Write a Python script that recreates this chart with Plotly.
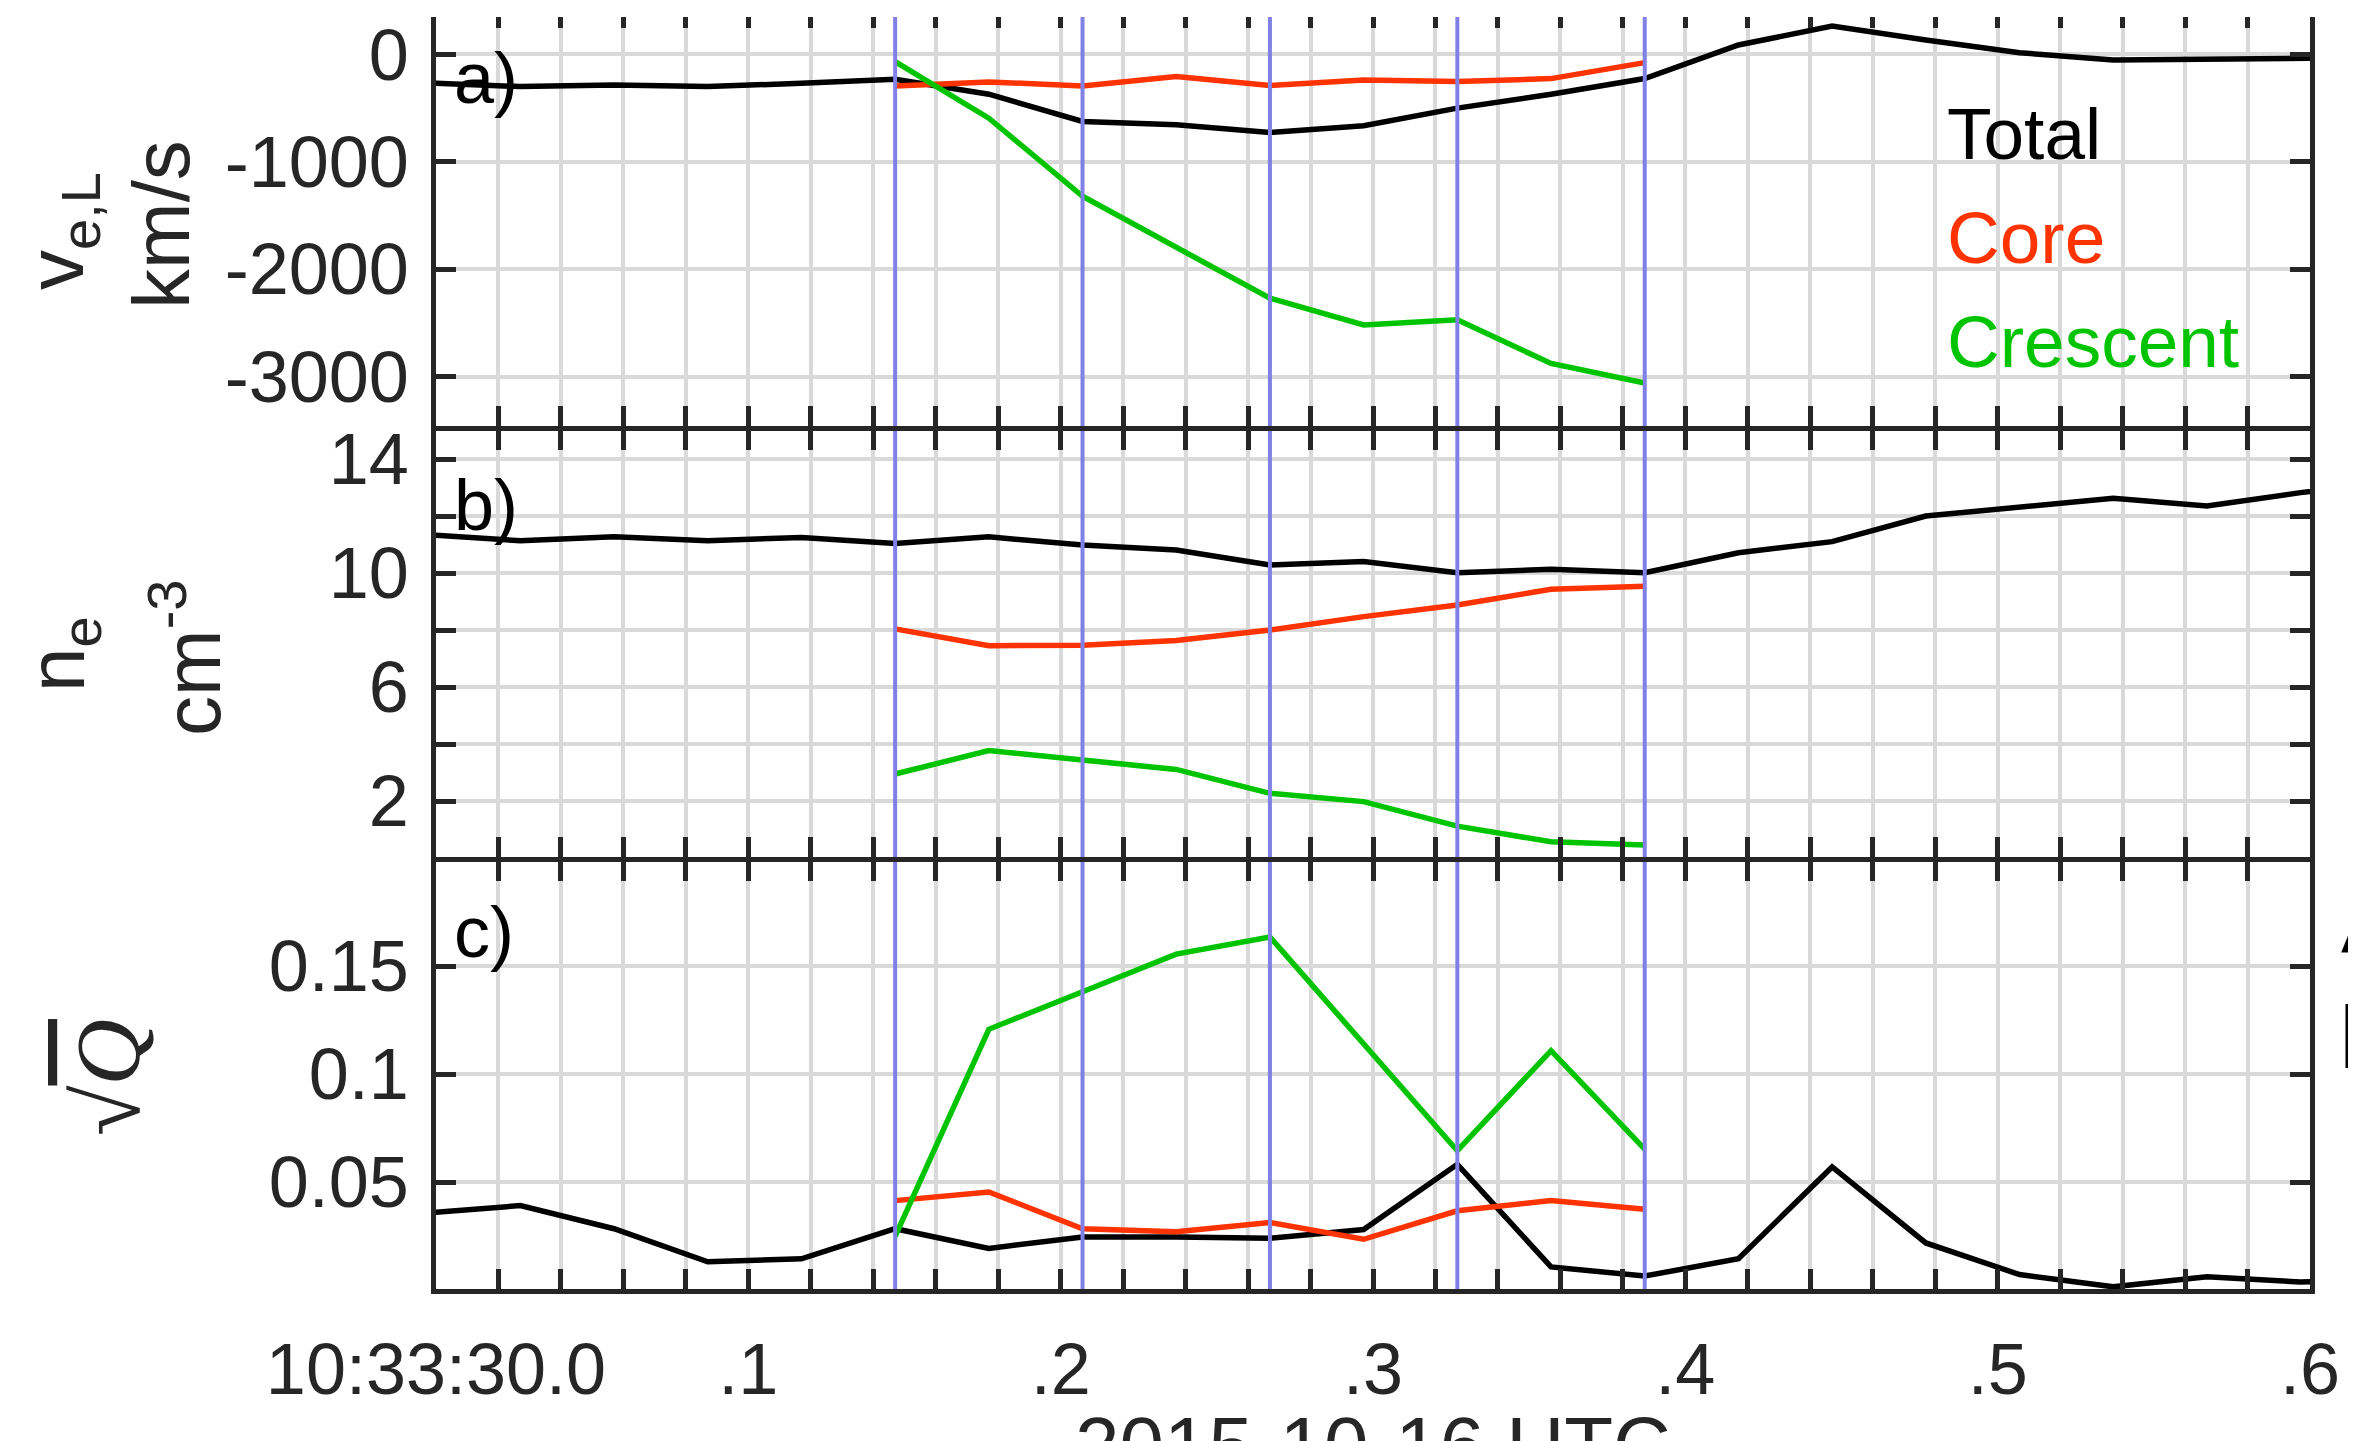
import plotly.graph_objects as go
from plotly.subplots import make_subplots

# ---------------- data ----------------
# time in seconds after 10:33:00 (2015-10-16 UTC)
t_all = [29.997, 30.027, 30.057, 30.087, 30.117, 30.147, 30.177, 30.207, 30.237, 30.267, 30.297,
         30.327, 30.357, 30.387, 30.417, 30.447, 30.477, 30.507, 30.537, 30.567, 30.597, 30.627]
t_sel = [30.147, 30.177, 30.207, 30.237, 30.267, 30.297, 30.327, 30.357, 30.387]

# panel a: v_e,L (km/s)
vL_total = [-265, -300, -285, -300, -270, -232, -371, -625, -656, -727, -665,
            -501, -371, -225, 87, 263, 133, 15, -53, -43, -34, -30]
vL_core = [-294, -257, -294, -207, -291, -238, -254, -226, -77]
vL_cres = [-68, -594, -1321, -1800, -2270, -2518, -2471, -2877, -3059]

# panel b: n_e (cm^-3)
n_total = [11.35, 11.13, 11.27, 11.13, 11.25, 11.04, 11.27, 10.98, 10.81, 10.28, 10.40,
           10.01, 10.13, 10.01, 10.71, 11.10, 12.00, 12.30, 12.62, 12.35, 12.82, 13.2]
n_core = [8.04, 7.45, 7.47, 7.63, 8.00, 8.47, 8.88, 9.43, 9.54]
n_cres = [2.95, 3.77, 3.44, 3.11, 2.27, 1.98, 1.12, 0.57, 0.46]

# panel c: sqrt(Q)
q_total = [0.0358, 0.0392, 0.0285, 0.0132, 0.0146, 0.0285, 0.0194, 0.0247, 0.0247, 0.0241, 0.0281,
           0.0583, 0.0108, 0.0066, 0.0146, 0.0571, 0.0219, 0.0073, 0.0016, 0.0063, 0.0038, 0.0050]
q_core = [0.0415, 0.0455, 0.0285, 0.0271, 0.0314, 0.0236, 0.0368, 0.0415, 0.0375]
q_cres = [0.0250, 0.1208, 0.1382, 0.1556, 0.1635, 0.1142, 0.0646, 0.1109, 0.0653]

# marked times (blue vertical lines)
mark_times = [30.147, 30.207, 30.267, 30.327, 30.387]

series_names = ["Total", "Core", "Crescent"]

# ticks
x_major_vals = [30.0, 30.1, 30.2, 30.3, 30.4, 30.5, 30.6]
x_major_text = ["10:33:30.0", ".1", ".2", ".3", ".4", ".5", ".6"]
ya_vals = [0, -1000, -2000, -3000]
ya_text = ["0", "-1000", "-2000", "-3000"]
yb_vals = [2, 4, 6, 8, 10, 12, 14]
yb_text = ["2", "", "6", "", "10", "", "14"]
yc_vals = [0.05, 0.1, 0.15]
yc_text = ["0.05", "0.1", "0.15"]

# ---------------- style / geometry (page pixels) ----------------
W, H = 2356, 1441
OFF = 8                      # page body margin
X0, X1 = 436, 2310           # plot area left/right on page
Y0, Y1 = 8, 1289             # plot area top/bottom on page
L = X0 - OFF
R = W - (X1 - OFF)
T = Y0 - OFF
B = H - (Y1 - OFF)
PW, PH = X1 - X0, Y1 - Y0

C_TOT, C_CORE, C_CRES, C_MARK = "#000000", "#ff3300", "#00c400", "#8080e6"
AX = "#262626"
FONT = "Liberation Sans, Arial, Helvetica, sans-serif"
TICKF = 72
LABF = 80


def px(xp):
    return (xp - X0) / PW


def py(yp):
    return (Y1 - yp) / PH


ranges = {1: [-3459, 431], 2: [0.03, 15.0], 3: [0.0006, 0.1984]}
doms = {1: [py(426), 1.0], 2: [py(857.2), py(430.5)], 3: [0.0, py(861.6)]}

fig = make_subplots(rows=3, cols=1, shared_xaxes=True, vertical_spacing=0)

panels = [
    (1, vL_total, vL_core, vL_cres),
    (2, n_total, n_core, n_cres),
    (3, q_total, q_core, q_cres),
]
for row, tot, core, cres in panels:
    fig.add_trace(go.Scatter(x=t_all, y=tot, mode="lines", name=series_names[0],
                             line=dict(color=C_TOT, width=5.5)), row=row, col=1)
    fig.add_trace(go.Scatter(x=t_sel, y=core, mode="lines", name=series_names[1],
                             line=dict(color=C_CORE, width=5.5)), row=row, col=1)
    fig.add_trace(go.Scatter(x=t_sel, y=cres, mode="lines", name=series_names[2],
                             line=dict(color=C_CRES, width=5.5)), row=row, col=1)
    mx, my = [], []
    lo, hi = ranges[row]
    for tm in mark_times:
        mx += [tm, tm, None]
        my += [lo, hi, None]
    fig.add_trace(go.Scatter(x=mx, y=my, mode="lines", line=dict(color=C_MARK, width=4),
                             hoverinfo="skip"), row=row, col=1)

x_tick_vals = [round(30.0 + 0.02 * i, 2) for i in range(31)]
x_tick_text = []
for v in x_tick_vals:
    lab = ""
    for mv, mt in zip(x_major_vals, x_major_text):
        if abs(v - mv) < 1e-6:
            lab = mt
    x_tick_text.append(lab)

axis_common = dict(showline=True, linecolor=AX, linewidth=4.5, mirror="ticks",
                   ticks="inside", ticklen=20, tickwidth=4.5, tickcolor=AX,
                   showgrid=True, gridcolor="#d9d9d9", gridwidth=3.5, zeroline=False,
                   automargin=False,
                   tickfont=dict(family=FONT, size=TICKF, color=AX))

for i in (1, 2, 3):
    fig.update_xaxes(range=[30.0, 30.6], tickmode="array", tickvals=x_tick_vals,
                     ticktext=x_tick_text, row=i, col=1, **axis_common)
fig.update_xaxes(showticklabels=True, ticklabelstandoff=14, row=3, col=1)

fig.update_yaxes(range=ranges[1], domain=doms[1], tickmode="array", tickvals=ya_vals,
                 ticktext=ya_text, ticklabelstandoff=8, row=1, col=1, **axis_common)
fig.update_yaxes(range=ranges[2], domain=doms[2], tickmode="array", tickvals=yb_vals,
                 ticktext=yb_text, ticklabelstandoff=8, row=2, col=1, **axis_common)
fig.update_yaxes(range=ranges[3], domain=doms[3], tickmode="array", tickvals=yc_vals,
                 ticktext=yc_text, ticklabelstandoff=8, row=3, col=1, **axis_common)

ann = []


def text(xp, yp, s, size, color="#000000", family=FONT, xanchor="left", yanchor="middle", angle=0):
    ann.append(dict(x=px(xp), y=py(yp), xref="paper", yref="paper", text=s, showarrow=False,
                    xanchor=xanchor, yanchor=yanchor, textangle=angle,
                    font=dict(family=family, size=size, color=color)))


# legend-like labels
text(1945, 133, "Total", 73, C_TOT)
text(1945, 238, "Core", 73, C_CORE)
text(1945, 342, "Crescent", 73, C_CRES)
# panel labels
text(452, 78, "a)", TICKF)
text(452, 505, "b)", TICKF)
text(452, 932, "c)", TICKF)
# y axis titles
text(62, 231, "v<sub>e,L</sub>", LABF, AX, xanchor="center", angle=-90)
text(162, 225, "km/s", LABF, AX, xanchor="center", angle=-90)
text(62, 654, "n<sub>e</sub>", LABF, AX, xanchor="center", angle=-90)
text(186, 658, "cm<sup>-3</sup>", LABF, AX, xanchor="center", angle=-90)
text(108, 1078, "√<span style='text-decoration:overline'><i>Q</i></span>", 92,
     AX, family="Liberation Serif, DejaVu Serif, serif", xanchor="center", angle=-90)
# x axis title (cut off at bottom)
text(1373, 1445, "2015-10-16 UTC", LABF, AX, xanchor="center")
# cut-off text on right edge
text(2339, 921, "A", 92, "#000000")
text(2335, 1036, "I", 92, "#000000")

fig.update_layout(
    width=W, height=H, margin=dict(l=L, r=R, t=T, b=B, autoexpand=False),
    paper_bgcolor="white", plot_bgcolor="white", showlegend=False,
    annotations=ann,
    shapes=[dict(type="rect", xref="paper", yref="paper", x0=-0.3, x1=1.05,
                 y0=py(17), y1=1.05, fillcolor="white", line=dict(width=0), layer="above")],
)

fig.write_html("out.html")
